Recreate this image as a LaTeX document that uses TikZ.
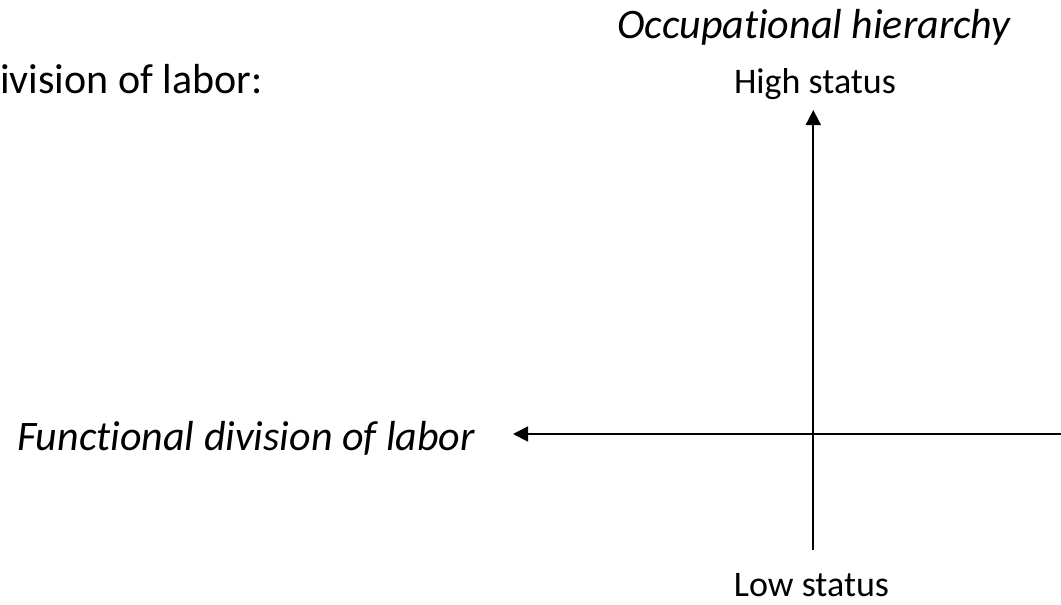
\documentclass[tikz,border=0pt]{standalone}
\usepackage{fontspec}
\setmainfont{Carlito}[Ligatures={NoCommon}]
\usetikzlibrary{arrows.meta}
\tikzset{
  big/.style={font=\fontsize{42}{50}\selectfont\itshape, inner sep=0pt},
  bigup/.style={font=\fontsize{42}{50}\selectfont, inner sep=0pt},
  small/.style={font=\fontsize{36}{43}\selectfont, inner sep=0pt},
  axis/.style={line width=1.8pt, draw=black, -{Triangle[length=15pt,width=15pt]}}
}
\begin{document}
\begin{tikzpicture}[x=1pt,y=-1pt]
\useasboundingbox (0,0) rectangle (1061,605);
\node[bigup, anchor=base west] (div) at (0,93) {ivision of labor:};
\node[big, anchor=base] (occ) at (814,38) {Occupational hierarchy};
\node[small, anchor=base] (high) at (815,93) {High status};
\node[small, anchor=base] (low) at (811.5,596) {Low status};
\node[big, anchor=base west] (func) at (17,450) {Functional division of labor};
\coordinate (top) at (813.3,110);
\coordinate (bot) at (813.3,550);
\coordinate (right) at (1061,434);
\coordinate (left) at (513,434);
\draw[axis] (bot) -- (top);
\draw[axis] (right) -- (left);
\end{tikzpicture}
\end{document}
